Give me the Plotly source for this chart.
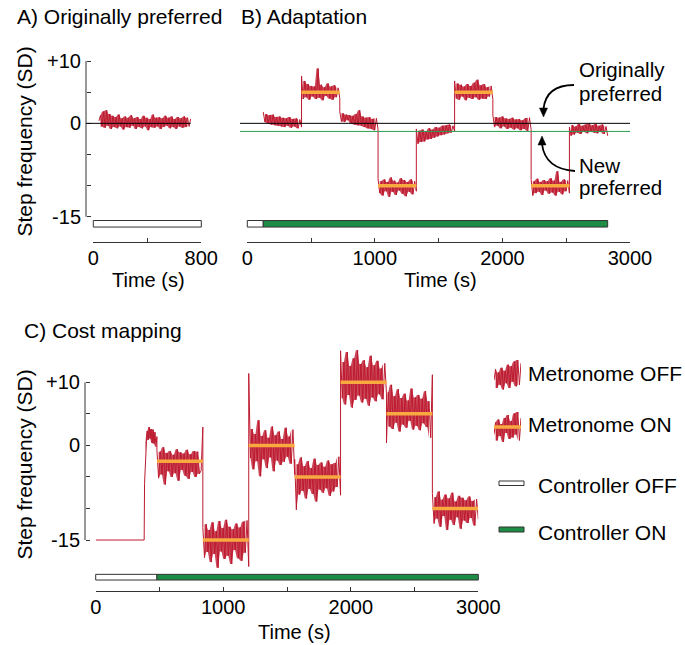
import numpy as np
import plotly.graph_objects as go

# ------------------------------------------------------------------
# Data: step frequency (SD units) against time (s)
# ------------------------------------------------------------------
# A) originally preferred walking, no metronome, controller off
A_START, A_END = 42, 721
A_TRACE = [0.4, 1.3, -0.5, 1.9, -0.7, 2.1, -0.4, 1.5, -0.9, 1.2, -0.6, 1.0,
           -0.8, 1.4, -0.5, 0.8, -1.0, 1.1, -0.6, 0.9, -0.7, 1.3, -0.4, 0.8,
           -0.9, 1.0, -0.6, 0.7, -0.8, 1.2, -0.5, 0.9, -1.1, 0.7, -0.6, 1.4,
           -0.7, 0.9, -0.5, 1.0, -0.9, 0.8, -0.6, 1.2, -0.4, 0.9, -0.8, 1.1,
           -0.6, 0.7, -0.9, 1.0, -0.5, 0.8, -0.7, 1.1, -0.6, 0.9, -0.5, 0.7]
A_PREFERRED = 0.0
A_CONTROLLER_END = 800

# B) adaptation: alternating free walking and metronome periods
B_EDGES = [125, 425, 725, 1025, 1325, 1625, 1925, 2225, 2525, 2825]
B_SEG1 = [1.8, 0.2, 1.5, 0.0, 1.3, -0.2, 1.4, -0.3, 1.0, -0.4, 1.1, -0.5,
          0.9, -0.6, 0.8, -0.4, 1.0, -0.7, 0.7, -0.5, 0.8, -0.8, 0.6, -0.6]
B_SEG2 = [7.6, 3.9, 6.8, 4.2, 6.3, 3.8, 6.0, 4.3, 5.9, 3.9, 8.8, 4.1,
          6.2, 3.7, 5.8, 4.4, 6.4, 4.0, 5.9, 3.8, 6.1, 4.2, 5.7, 4.0]
B_SEG3 = [1.9, 0.3, 1.6, 0.2, 1.4, 0.5, 1.3, 0.0, 1.2, -0.2, 1.5, -0.3,
          2.1, -0.4, 1.1, -0.6, 0.9, -0.8, 1.0, -0.9, 0.7, -1.1, 0.8, -1.0]
B_SEG4 = [-8.9, -11.2, -9.3, -11.6, -9.0, -10.9, -9.4, -11.8, -8.7, -11.0, -9.2, -11.5,
          -9.5, -10.8, -8.8, -11.3, -9.1, -11.7, -9.4, -11.0, -9.0, -11.4, -9.3, -10.9]
B_SEG5 = [-0.9, -3.3, -1.2, -3.0, -1.0, -2.9, -1.3, -2.6, -0.8, -2.5, -1.0, -2.3,
          -0.6, -2.1, -0.7, -1.9, -0.4, -1.8, -0.3, -1.6, -0.2, -1.5, -0.4, -1.3]
B_SEG6 = [6.8, 4.0, 6.4, 3.8, 6.2, 4.3, 5.9, 3.7, 6.3, 4.1, 6.0, 3.9,
          6.5, 4.2, 7.0, 3.8, 6.1, 4.0, 6.3, 3.9, 5.8, 4.3, 6.0, 3.8]
B_SEG7 = [1.3, -0.6, 1.0, -0.4, 0.9, -0.8, 1.1, -0.5, 0.8, -0.9, 0.7, -0.7,
          0.9, -1.0, 0.6, -0.8, 0.7, -1.1, 0.5, -0.9, 0.8, -1.2, 0.9, -1.0]
B_SEG8 = [-9.0, -11.6, -9.3, -11.2, -8.9, -11.0, -9.4, -11.5, -9.1, -10.8, -9.3, -11.3,
          -8.8, -11.1, -9.2, -11.6, -7.7, -11.0, -9.4, -11.4, -9.0, -10.9, -9.2, -11.2]
B_SEG9 = [-0.6, -2.0, -0.3, -1.8, -0.5, -1.5, -0.1, -1.7, -0.4, -1.4, -0.2, -1.6,
          0.0, -1.3, -0.3, -1.5, -0.1, -1.6, -0.4, -1.4, -0.2, -1.7, -0.5, -2.0]
B_METRONOME = [None, 5, None, -10, None, 5, None, -10, None]
B_ORIGINAL_PREF = 0.0
B_NEW_PREF = -1.3
B_CONTROLLER_ON = 125

# C) cost mapping: metronome steps across frequencies
C_REST_TIME = [0, 380]
C_REST = [-15, -15]
C_EDGES = [383, 480, 840, 1200, 1560, 1920, 2280, 2640, 3000]
C_SEG1 = [-6.0, -1.2, 0.6, 2.3, 0.9, 2.9, 1.1, 2.6, 0.4, 2.5, 0.3, 2.1, -0.2, 1.4]
C_SEG2 = [-0.8, -5.2, -1.0, -4.6, -0.3, -6.2, -1.2, -4.1, -0.9, -5.0, -1.5, -4.4,
          -0.6, -5.6, -1.1, -3.9, -1.3, -4.8, -0.7, -5.3, -1.4, -4.2, -0.9, -5.0,
          -1.0, -4.5, -4.0, 2.9]
C_SEG3 = [-13.0, -17.8, -12.5, -16.9, -13.4, -18.5, -12.2, -17.2, -13.6, -19.4, -12.0, -16.8,
          -13.1, -18.0, -11.8, -17.5, -12.9, -18.8, -13.3, -16.6, -12.4, -17.9, -13.0, -18.3,
          -12.1, -17.0, -11.9, -19.2]
C_SEG4 = [11.4, -2.0, 2.6, -3.8, 1.8, -2.5, 4.0, -4.9, 1.5, -2.2, 2.4, -3.6,
          1.2, -1.9, 3.0, -4.1, 1.6, -2.4, 2.2, -3.1, 1.0, -2.6, 2.8, -1.8,
          1.4, -2.9, 2.5, -4.6]
C_SEG5 = [-2.2, -10.2, -3.0, -7.8, -1.9, -7.2, -3.3, -8.4, -2.5, -6.9, -3.6, -7.7,
          -2.1, -8.9, -3.1, -7.0, -2.7, -7.5, -3.4, -6.8, -2.4, -8.0, -3.0, -7.3,
          -2.8, -6.6, -1.8, -7.9]
C_SEG6 = [15.0, 7.5, 13.2, 6.5, 14.8, 8.0, 12.6, 6.0, 13.8, 7.2, 15.1, 7.9,
          12.9, 6.8, 13.5, 7.4, 12.4, 6.3, 14.2, 7.6, 12.7, 7.0, 13.4, 8.1,
          12.2, 7.3, 13.0, 8.2]
C_SEG7 = [0.4, 8.4, 3.0, 9.6, 2.6, 7.8, 3.6, 8.9, 2.2, 7.5, 3.3, 8.2,
          2.8, 7.1, 3.9, 9.0, 2.5, 7.6, 3.1, 8.0, 2.4, 7.4, 3.5, 8.6,
          2.9, 7.0, 1.2, 11.2]
C_SEG8 = [-7.6, -12.4, -8.2, -11.6, -7.3, -12.9, -8.6, -11.2, -7.8, -13.4, -8.4, -11.8,
          -7.5, -12.6, -8.9, -11.4, -8.0, -13.2, -8.3, -11.9, -8.7, -12.3, -8.1, -11.5,
          -8.8, -12.7, -8.5, -11.7]
C_METRONOME = [None, -2.5, -15, 0, -5, 10, 5, -10]
C_CONTROLLER_ON = 480

# Legend sample traces
ICON_OFF = [-0.3, 0.4, -0.8, 0.2, -0.6, 0.5, -0.9, 0.3, -0.5, 0.7,
            -0.8, 0.6, -0.4, 0.9, -0.7, 1.0, -0.6, 0.8]
ICON_ON = [-0.5, 0.3, -0.9, 0.5, -0.6, 0.2, -1.0, 0.6, -0.4, 0.8,
           -0.8, 0.4, -0.7, 0.9, -0.5, 1.0, -0.9, 0.6]

# Tick values and labels
A_TICKS = [0, 400, 800]
A_TICK_TEXT = ["0", "", "800"]
BC_TICKS = [0, 500, 1000, 1500, 2000, 2500, 3000]
BC_TICK_TEXT = ["0", "", "1000", "", "2000", "", "3000"]
Y_TICKS = [10, 5, 0, -5, -10, -15]
Y_TICK_TEXT = ["+10", "", "0", "", "", "-15"]

# ------------------------------------------------------------------
# Styling and layout geometry (pixels on a 685 x 645 canvas)
# ------------------------------------------------------------------
W, H = 685, 645
RED = "#bd1a2f"
RED_FILL = "rgba(189,26,47,0.8)"
ORANGE = "#f8a940"
GREEN = "#1d8c45"
PREF_GREEN = "#2a9d4f"
AXIS = "#333333"
FONT = "Liberation Sans, Arial, Helvetica, sans-serif"
TRACE = dict(color=RED, width=1)


def fx(px):
    return px / W


def fy(px):
    return 1 - px / H


PANEL = {
    "A": dict(x=(93.3, 201.3), xr=(0, 800), y=(241.7, 54.8), yr=(-19.0, 11.0)),
    "B": dict(x=(247.3, 630.0), xr=(0, 3000), y=(241.7, 54.8), yr=(-19.0, 11.0)),
    "C": dict(x=(95.7, 478.3), xr=(0, 3000), y=(590.5, 344.45), yr=(-23.0, 16.0)),
}
A_YAXIS_PX, C_YAXIS_PX = 86, 85


def tx(p, t):
    """Time value -> paper x for panel p."""
    d = PANEL[p]
    (a, b), (r0, r1) = d["x"], d["xr"]
    return fx(a + (t - r0) / (r1 - r0) * (b - a))


fig = go.Figure()
common = dict(mode="lines", hoverinfo="skip", showlegend=False)


def add_band(t, v, xa, ya):
    """Dense core of a noisy segment: area between neighbouring samples."""
    t = np.asarray(t)[1:-1]
    v = np.asarray(v)[1:-1]
    hi = np.maximum(v[:-1], v[1:])
    lo = np.minimum(v[:-1], v[1:])
    tm = t[:-1]
    fig.add_trace(go.Scatter(x=np.concatenate([tm, tm[::-1]]), y=np.concatenate([hi, lo[::-1]]),
                             xaxis=xa, yaxis=ya, fill="toself", fillcolor=RED_FILL,
                             line=dict(width=0), **common))


def add_segments(edges, segs, xa, ya, lead_t=(), lead_v=()):
    xs, ys = list(lead_t), list(lead_v)
    for i, seg in enumerate(segs):
        t = np.linspace(edges[i], edges[i + 1], len(seg))
        add_band(t, seg, xa, ya)
        xs.extend(t)
        ys.extend(seg)
    fig.add_trace(go.Scatter(x=xs, y=ys, xaxis=xa, yaxis=ya, line=TRACE, **common))


def add_metronome(edges, levels, xa, ya):
    for i, lvl in enumerate(levels):
        if lvl is not None:
            fig.add_trace(go.Scatter(x=[edges[i], edges[i + 1]], y=[lvl, lvl], xaxis=xa, yaxis=ya,
                                     line=dict(color=ORANGE, width=3.5), **common))


# Panel A
add_segments([A_START, A_END], [A_TRACE], "x", "y")

# Panel B
add_segments(B_EDGES, [B_SEG1, B_SEG2, B_SEG3, B_SEG4, B_SEG5, B_SEG6, B_SEG7, B_SEG8, B_SEG9],
             "x2", "y2")
add_metronome(B_EDGES, B_METRONOME, "x2", "y2")

# Panel C
add_segments(C_EDGES, [C_SEG1, C_SEG2, C_SEG3, C_SEG4, C_SEG5, C_SEG6, C_SEG7, C_SEG8],
             "x3", "y3", C_REST_TIME, C_REST)
add_metronome(C_EDGES, C_METRONOME, "x3", "y3")

# Legend samples
add_segments([0, 1], [ICON_OFF], "x4", "y4")
add_segments([0, 1], [ICON_ON], "x5", "y5")
add_metronome([0, 1], [0], "x5", "y5")

tickfont = dict(size=20, color="black", family=FONT)


def xaxis_cfg(p, anchor, ticks, text):
    d = PANEL[p]
    return dict(domain=[fx(d["x"][0]), fx(d["x"][1])], range=list(d["xr"]), anchor=anchor,
                showline=True, linecolor=AXIS, linewidth=1, ticks="inside", ticklen=4,
                tickwidth=1, tickcolor=AXIS, tickvals=ticks, ticktext=text,
                showgrid=False, zeroline=False, tickfont=tickfont, ticklabelstandoff=-2,
                automargin=False, fixedrange=True)


def yaxis_cfg(p, pos_px):
    d = PANEL[p]
    return dict(domain=[fy(d["y"][0]), fy(d["y"][1])], range=list(d["yr"]),
                anchor="free", position=fx(pos_px), side="left", showline=False,
                ticks="inside", ticklen=4, tickwidth=1, tickcolor=AXIS,
                tickvals=Y_TICKS, ticktext=Y_TICK_TEXT, tickfont=tickfont,
                ticklabelstandoff=5, showgrid=False, zeroline=False,
                automargin=False, fixedrange=True)


def hidden_axis(domain, rng, anchor):
    return dict(domain=domain, range=rng, anchor=anchor, visible=False,
                showgrid=False, zeroline=False, automargin=False, fixedrange=True)


shapes = []
# Y axis lines spanning +10 to -15
shapes.append(dict(type="line", xref="paper", yref="y", x0=fx(A_YAXIS_PX), x1=fx(A_YAXIS_PX),
                   y0=-15, y1=10, line=dict(color=AXIS, width=1)))
shapes.append(dict(type="line", xref="paper", yref="y3", x0=fx(C_YAXIS_PX), x1=fx(C_YAXIS_PX),
                   y0=-15, y1=10, line=dict(color=AXIS, width=1)))

# Preferred-frequency reference lines
shapes.append(dict(type="line", xref="paper", yref="y", x0=fx(A_YAXIS_PX), x1=tx("A", A_END),
                   y0=A_PREFERRED, y1=A_PREFERRED, line=dict(color="black", width=1), layer="above"))
shapes.append(dict(type="line", xref="paper", yref="y2", x0=fx(240), x1=tx("B", 3000),
                   y0=B_ORIGINAL_PREF, y1=B_ORIGINAL_PREF, line=dict(color="black", width=1), layer="above"))
shapes.append(dict(type="line", xref="paper", yref="y2", x0=fx(240), x1=tx("B", 3000),
                   y0=B_NEW_PREF, y1=B_NEW_PREF, line=dict(color=PREF_GREEN, width=1), layer="above"))

# Controller state bars
BAR_AB = (-15.6, -16.65)
BAR_C = (-20.44, -21.34)


def bar(p, yref, t0, t1, yb, color):
    return dict(type="rect", xref="paper", yref=yref, x0=tx(p, t0), x1=tx(p, t1),
                y0=yb[0], y1=yb[1], fillcolor=color, line=dict(color=AXIS, width=1))


shapes.append(bar("A", "y", 0, A_CONTROLLER_END, BAR_AB, "white"))
shapes.append(bar("B", "y2", 0, B_CONTROLLER_ON, BAR_AB, "white"))
shapes.append(bar("B", "y2", B_CONTROLLER_ON, B_EDGES[-1], BAR_AB, GREEN))
shapes.append(bar("C", "y3", 0, C_CONTROLLER_ON, BAR_C, "white"))
shapes.append(bar("C", "y3", C_CONTROLLER_ON, C_EDGES[-1], BAR_C, GREEN))

# Legend boxes for controller state
shapes.append(dict(type="rect", xref="paper", yref="paper", x0=fx(499), x1=fx(524),
                   y0=fy(481), y1=fy(485.5), fillcolor="white", line=dict(color=AXIS, width=1)))
shapes.append(dict(type="rect", xref="paper", yref="paper", x0=fx(499), x1=fx(524),
                   y0=fy(527), y1=fy(532), fillcolor=GREEN, line=dict(color=AXIS, width=1)))


# Curved arrows pointing to the two preferred-frequency lines
def curve(p0, c, p1):
    return (f"M {fx(p0[0])},{fy(p0[1])} Q {fx(c[0])},{fy(c[1])} {fx(p1[0])},{fy(p1[1])}")


def head(tip, base_y, half):
    return (f"M {fx(tip[0])},{fy(tip[1])} L {fx(tip[0] - half)},{fy(base_y)} "
            f"L {fx(tip[0] + half)},{fy(base_y)} Z")


shapes.append(dict(type="path", xref="paper", yref="paper",
                   path=curve((574, 85), (546, 85), (543.5, 109)), line=dict(color="black", width=1.8)))
shapes.append(dict(type="path", xref="paper", yref="paper", path=head((543.5, 117), 108, 4),
                   fillcolor="black", line=dict(color="black", width=0.5)))
shapes.append(dict(type="path", xref="paper", yref="paper",
                   path=curve((575, 171), (545, 169), (542, 144)), line=dict(color="black", width=1.8)))
shapes.append(dict(type="path", xref="paper", yref="paper", path=head((542, 136), 145, 4),
                   fillcolor="black", line=dict(color="black", width=0.5)))


def label(text, x_px, y_px, size=21, xanchor="left", angle=0, pad=1):
    return dict(text=text, x=fx(x_px), y=fy(y_px), xref="paper", yref="paper",
                xanchor=xanchor, yanchor="middle", showarrow=False, textangle=angle,
                borderpad=pad, font=dict(size=size, color="black", family=FONT))


annotations = [
    label("A) Originally preferred", 15, 17),
    label("B) Adaptation", 238.5, 17),
    label("C) Cost mapping", 22, 330),
    label("Step frequency (SD)", 24.5, 142, xanchor="center", angle=-90),
    label("Step frequency (SD)", 24.5, 465, xanchor="center", angle=-90),
    label("Time (s)", 148, 280, size=20, xanchor="center"),
    label("Time (s)", 440, 280, size=20, xanchor="center"),
    label("Time (s)", 294, 632, size=20, xanchor="center"),
    label("Originally", 578, 70, size=20.5, pad=0),
    label("preferred", 578, 93, size=20.5, pad=0),
    label("New", 578, 166, size=20.5, pad=0),
    label("preferred", 578, 187, size=20.5, pad=0),
    label("Metronome OFF", 526, 373),
    label("Metronome ON", 526, 424),
    label("Controller OFF", 535.5, 485.5),
    label("Controller ON", 535.5, 532.5),
]

fig.update_layout(
    width=W, height=H, margin=dict(l=0, r=0, t=0, b=0, autoexpand=False),
    paper_bgcolor="white", plot_bgcolor="white", showlegend=False,
    font=dict(family=FONT, color="black"),
    xaxis=xaxis_cfg("A", "y", A_TICKS, A_TICK_TEXT),
    yaxis=yaxis_cfg("A", A_YAXIS_PX),
    xaxis2=xaxis_cfg("B", "y2", BC_TICKS, BC_TICK_TEXT),
    yaxis2=hidden_axis([fy(PANEL["B"]["y"][0]), fy(PANEL["B"]["y"][1])], list(PANEL["B"]["yr"]), "x2"),
    xaxis3=xaxis_cfg("C", "y3", BC_TICKS, BC_TICK_TEXT),
    yaxis3=yaxis_cfg("C", C_YAXIS_PX),
    xaxis4=hidden_axis([fx(494), fx(521)], [0, 1], "y4"),
    yaxis4=hidden_axis([fy(391), fy(360)], [-1, 1], "x4"),
    xaxis5=hidden_axis([fx(494), fx(521)], [0, 1], "y5"),
    yaxis5=hidden_axis([fy(442), fy(412)], [-1, 1], "x5"),
    shapes=shapes,
    annotations=annotations,
)

fig.write_html("out.html")
